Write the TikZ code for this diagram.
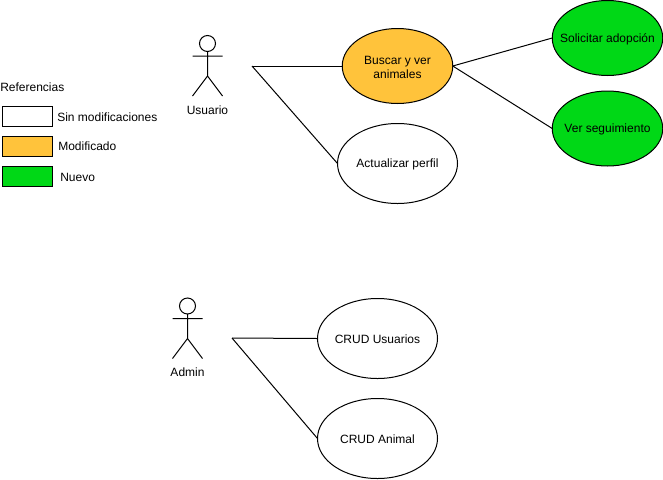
\documentclass[tikz,border=0pt]{standalone}
\usepackage{fontspec}
\setmainfont{Liberation Sans}
\usetikzlibrary{shapes.geometric}
\definecolor{orangec}{HTML}{FFC33B}
\definecolor{greenc}{HTML}{00D816}
\tikzset{x=0.75pt,y=-0.75pt,
 uc/.style={draw,ellipse,line width=0.75pt,inner sep=0pt,outer sep=0pt},
 uclabel/.style={inner sep=0pt,align=center,yshift=-0.9pt,font=\fontsize{9}{10.8}\selectfont},
 legbox/.style={draw,line width=0.75pt,minimum width=37.5pt,minimum height=15pt,inner sep=0pt},
 lbl/.style={inner sep=0pt,font=\fontsize{9}{10.5}\selectfont,anchor=west},
 actorlbl/.style={inner sep=0pt,font=\fontsize{9}{10.5}\selectfont},
 conn/.style={line width=0.75pt}}
\newcommand{\actorfig}[2]{%
 \draw[conn,fill=white] (#1,#2) circle[radius=8];
 \draw[conn] (#1,#2+8) -- (#1,#2+32.5) (#1-15,#2+12.5) -- (#1+15,#2+12.5)
   (#1-15,#2+52.5) -- (#1,#2+32.5) -- (#1+15,#2+52.5);}
\begin{document}
\begin{tikzpicture}
\useasboundingbox (0,0) rectangle (663,479);
\fill[white] (0,0) rectangle (663,479);
\actorfig{207.5}{43.5}
\actorfig{187.5}{306}
\node[actorlbl] (usuario) at (207.5,110) {Usuario};
\node[actorlbl] (admin) at (187.5,372) {Admin};
\coordinate (ua) at (252,66);
\coordinate (aa) at (232,338);
\node[uc,fill=orangec,minimum width=82.9pt,minimum height=56.25pt] (buscar) at (397.5,66) {};
\node[uc,minimum width=90pt,minimum height=60pt] (perfil) at (397.5,163.5) {};
\node[uc,fill=greenc,minimum width=82.9pt,minimum height=56.25pt] (solicitar) at (607.5,38) {};
\node[uc,fill=greenc,minimum width=82.9pt,minimum height=56.25pt] (seg) at (607.5,128.5) {};
\node[uc,minimum width=90pt,minimum height=60pt] (crudu) at (377.5,338.5) {};
\node[uc,minimum width=90pt,minimum height=60pt] (cruda) at (377.5,438.5) {};
\node[uclabel] (tbuscar) at (buscar) {Buscar y ver\\animales};
\node[uclabel] (tperfil) at (perfil) {Actualizar perfil};
\node[uclabel] (tsol) at (solicitar) {Solicitar adopción};
\node[uclabel] (tseg) at (seg) {Ver seguimiento};
\node[uclabel] (tcu) at (crudu) {CRUD Usuarios};
\node[uclabel] (tca) at (cruda) {CRUD Animal};
\draw[conn] (ua) -- (buscar.west);
\draw[conn] (ua) -- (perfil.west);
\draw[conn] (buscar.east) -- (solicitar.west);
\draw[conn] (buscar.east) -- (seg.west);
\draw[conn] (aa) -- (crudu.west);
\draw[conn] (aa) -- (cruda.west);
\node[lbl] (ref) at (0,87) {Referencias};
\node[legbox] (l1) at (27.5,116) {};
\node[legbox,fill=orangec] (l2) at (27.5,146) {};
\node[legbox,fill=greenc] (l3) at (27.5,176) {};
\node[lbl] (t1) at (57,117) {Sin modificaciones};
\node[lbl] (t2) at (58,146.5) {Modificado};
\node[lbl] (t3) at (60,177) {Nuevo};
\end{tikzpicture}
\end{document}
